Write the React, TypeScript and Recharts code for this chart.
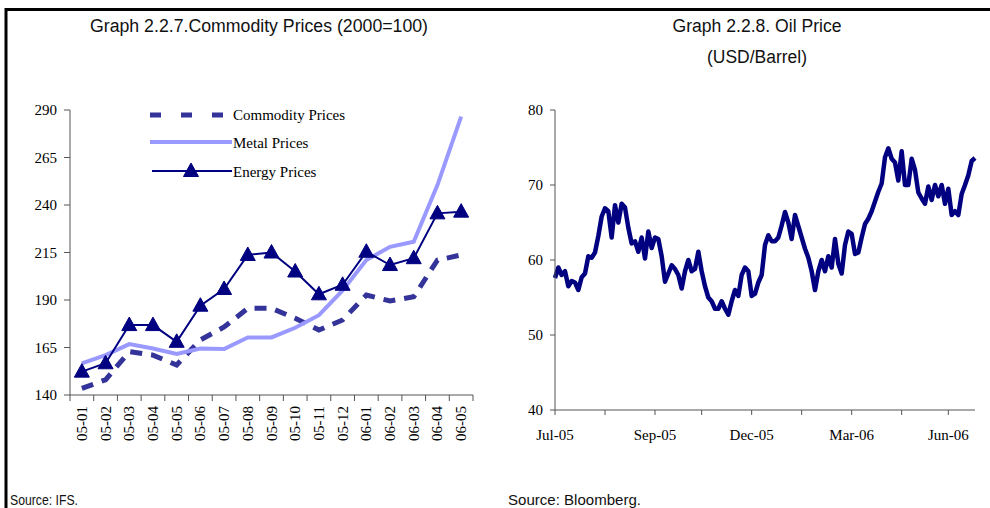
import React from 'react';
import { LineChart, Line, XAxis, YAxis, Legend } from 'recharts';

// ---- Graph 2.2.7: commodity price indices (2000 = 100) ----
const months = [
  '05-01', '05-02', '05-03', '05-04', '05-05', '05-06', '05-07', '05-08', '05-09',
  '05-10', '05-11', '05-12', '06-01', '06-02', '06-03', '06-04', '06-05',
];
const commodityPrices = [
  143.5, 148, 162.8, 161, 155.8, 169, 175.8, 185.6, 185.6, 180.4, 174.2, 179.5,
  192.6, 189.5, 191.7, 211, 213.7,
];
const metalPrices = [
  156.7, 161, 166.8, 164.5, 161.6, 164.5, 164.2, 170.3, 170.3, 175.4, 182, 195,
  211, 218, 220.7, 250.5, 286.5,
];
const energyPrices = [
  152.3, 156.7, 176.8, 176.8, 168, 187, 195.8, 213.7, 215, 205, 193, 198, 215.4,
  208.4, 212, 235.6, 236.5,
];
const indexTicks = [140, 165, 190, 215, 240, 265, 290];

// ---- Graph 2.2.8: oil price, USD per barrel (trading-day sequence) ----
const oilPrices = [
  57.6, 59.0, 58.0, 58.5, 56.5, 57.2, 57.0, 56.0, 57.7, 58.2,
  60.5, 60.3, 61.0, 63.2, 65.8, 66.9, 66.5, 63.0, 67.3, 65.0,
  67.5, 67.0, 64.3, 62.2, 62.5, 61.1, 63.0, 60.2, 63.8, 61.6,
  63.0, 62.8, 60.5, 57.1, 58.2, 59.3, 58.8, 58.0, 56.2, 58.5,
  60.0, 58.5, 58.8, 61.1, 58.5, 56.5, 55.0, 54.5, 53.5, 53.5,
  54.5, 53.5, 52.7, 54.5, 56.0, 55.2, 58.0, 59.0, 58.5, 55.2,
  55.5, 57.0, 58.0, 62.0, 63.3, 62.5, 62.5, 63.0, 64.6, 66.4,
  65.0, 62.8, 66.0, 64.5, 63.0, 61.5, 60.3, 58.5, 56.0, 58.5,
  60.0, 58.5, 60.5, 59.0, 62.8, 59.5, 58.2, 62.0, 63.8, 63.5,
  60.8, 61.0, 63.0, 64.8, 65.5, 66.5, 67.8, 69.1, 70.2, 73.7,
  74.9, 73.5, 73.0, 70.6, 74.5, 70.0, 70.0, 73.5, 72.0, 69.0,
  68.2, 67.5, 69.8, 68.0, 70.0, 68.5, 70.0, 67.5, 69.5, 66.0,
  66.5, 66.0, 68.8, 70.0, 71.3, 73.2, 73.6,
];
const oilTickDays = [0, 15, 30, 44, 59, 74, 89, 104, 118];
const oilTickLabels = ['Jul-05', '', 'Sep-05', '', 'Dec-05', '', 'Mar-06', '', 'Jun-06'];
const oilTicks = [40, 50, 60, 70, 80];

const NAVY = '#000080';
const LAVENDER = '#9999ff';
const DASH_BLUE = '#333399';
const AXIS = '#555555';
const SERIF = '"Liberation Serif", "Times New Roman", serif';
const SANS = '"Liberation Sans", Arial, sans-serif';

const indexData = months.map((m, i) => ({
  pos: i + 0.5,
  month: m,
  commodity: commodityPrices[i],
  metal: metalPrices[i],
  energy: energyPrices[i],
}));

// tick positions: integers are category boundaries (tick marks), halves are labels
const monthTicks: number[] = [];
months.forEach((_, i) => monthTicks.push(i, i + 0.5));
monthTicks.push(months.length);

const oilData = oilPrices.map((p, i) => ({ day: i, price: p }));

const MonthTick = (props: any) => {
  const { x, y, payload } = props;
  const v = payload.value as number;
  if (Number.isInteger(v)) {
    return <line x1={x} y1={y} x2={x} y2={y + 6} stroke={AXIS} strokeWidth={1} />;
  }
  const label = months[Math.floor(v)];
  const ay = y + 11;
  return (
    <text
      x={x}
      y={ay}
      transform={`rotate(-90, ${x}, ${ay})`}
      textAnchor="end"
      dominantBaseline="central"
      fontFamily={SERIF}
      fontSize={15}
      fill="#000"
    >
      {label}
    </text>
  );
};

const Triangle = (props: any) => {
  const { cx, cy } = props;
  if (cx == null || cy == null) return null;
  return (
    <polygon
      points={`${cx},${cy - 8} ${cx - 7.5},${cy + 5.5} ${cx + 7.5},${cy + 5.5}`}
      fill={NAVY}
      stroke={NAVY}
      strokeWidth={1}
    />
  );
};

const IndexLegend = () => (
  <svg width={260} height={86}>
    <line x1={10} y1={15} x2={84} y2={15} stroke={DASH_BLUE} strokeWidth={5} strokeDasharray="11 20" />
    <text x={93} y={15} dominantBaseline="central" fontFamily={SERIF} fontSize={15} fill="#000">
      Commodity Prices
    </text>
    <line x1={10} y1={42} x2={92} y2={42} stroke={LAVENDER} strokeWidth={4} />
    <text x={93} y={43} dominantBaseline="central" fontFamily={SERIF} fontSize={15} fill="#000">
      Metal Prices
    </text>
    <line x1={12} y1={71} x2={92} y2={71} stroke={NAVY} strokeWidth={2} />
    <Triangle cx={51} cy={71} />
    <text x={93} y={72} dominantBaseline="central" fontFamily={SERIF} fontSize={15} fill="#000">
      Energy Prices
    </text>
  </svg>
);

const oilTickFormat = (v: number) => {
  const k = oilTickDays.indexOf(v);
  return k >= 0 ? oilTickLabels[k] : '';
};

export default function App() {
  return (
    <div
      style={{
        position: 'absolute',
        left: 0,
        top: 0,
        width: 990,
        height: 508,
        background: '#fff',
        overflow: 'hidden',
      }}
    >
      <div style={{ position: 'absolute', left: 0, top: 0 }}>
        <LineChart
          width={500}
          height={470}
          data={indexData}
          margin={{ top: 110, right: 27, bottom: 15, left: 0 }}
        >
          <XAxis
            dataKey="pos"
            type="number"
            domain={[0, months.length]}
            ticks={monthTicks}
            interval={0}
            tickLine={false}
            tickSize={0}
            tickMargin={0}
            tick={<MonthTick />}
            height={60}
            axisLine={{ stroke: AXIS }}
          />
          <YAxis
            domain={[140, 290]}
            ticks={indexTicks}
            interval={0}
            width={70}
            tickSize={6}
            tickMargin={7}
            axisLine={{ stroke: AXIS }}
            tickLine={{ stroke: AXIS }}
            tick={{ fontFamily: SERIF, fontSize: 15, fill: '#000' }}
          />
          <Legend
            layout="horizontal"
            verticalAlign="middle"
            align="center"
            content={() => <IndexLegend />}
            wrapperStyle={{ position: 'absolute', left: 140, top: 100, width: 260, height: 86 }}
          />
          <Line
            dataKey="commodity"
            stroke={DASH_BLUE}
            strokeWidth={5}
            strokeDasharray="12 9"
            dot={false}
            isAnimationActive={false}
          />
          <Line
            dataKey="metal"
            stroke={LAVENDER}
            strokeWidth={4}
            dot={false}
            isAnimationActive={false}
          />
          <Line
            dataKey="energy"
            stroke={NAVY}
            strokeWidth={2}
            dot={<Triangle />}
            isAnimationActive={false}
          />
        </LineChart>
      </div>

      <div style={{ position: 'absolute', left: 495, top: 0 }}>
        <LineChart
          width={495}
          height={470}
          data={oilData}
          margin={{ top: 110, right: 15, bottom: 15, left: 0 }}
        >
          <XAxis
            dataKey="day"
            type="number"
            domain={[0, oilPrices.length - 1]}
            ticks={oilTickDays}
            interval={0}
            tickFormatter={oilTickFormat}
            tickSize={5}
            tickMargin={14}
            height={45}
            axisLine={{ stroke: AXIS }}
            tickLine={{ stroke: AXIS }}
            tick={{ fontFamily: SERIF, fontSize: 15, fill: '#000' }}
          />
          <YAxis
            domain={[40, 80]}
            ticks={oilTicks}
            interval={0}
            width={60}
            tickSize={5}
            tickMargin={7}
            axisLine={{ stroke: AXIS }}
            tickLine={{ stroke: AXIS }}
            tick={{ fontFamily: SERIF, fontSize: 15, fill: '#000' }}
          />
          <Line
            dataKey="price"
            stroke={NAVY}
            strokeWidth={4.5}
            strokeLinejoin="round"
            dot={false}
            isAnimationActive={false}
          />
        </LineChart>
      </div>

      <svg
        width={990}
        height={508}
        style={{ position: 'absolute', left: 0, top: 0, pointerEvents: 'none' }}
      >
        <path d="M6,510 V9.5 H992" fill="none" stroke="#000" strokeWidth={3} />
        <text x={259} y={32} textAnchor="middle" fontFamily={SANS} fontSize={18} textLength={338} lengthAdjust="spacingAndGlyphs" fill="#111">
          Graph 2.2.7.Commodity Prices (2000=100)
        </text>
        <text x={757} y={32} textAnchor="middle" fontFamily={SANS} fontSize={18} textLength={169} lengthAdjust="spacingAndGlyphs" fill="#111">
          Graph 2.2.8. Oil Price
        </text>
        <text x={757} y={63} textAnchor="middle" fontFamily={SANS} fontSize={18} textLength={100} lengthAdjust="spacingAndGlyphs" fill="#111">
          (USD/Barrel)
        </text>
        <text x={10} y={505} fontFamily={SANS} fontSize={14} textLength={68} lengthAdjust="spacingAndGlyphs" fill="#111">
          Source: IFS.
        </text>
        <text x={508} y={505} fontFamily={SANS} fontSize={14} textLength={133} lengthAdjust="spacingAndGlyphs" fill="#111">
          Source: Bloomberg.
        </text>
      </svg>
    </div>
  );
}
